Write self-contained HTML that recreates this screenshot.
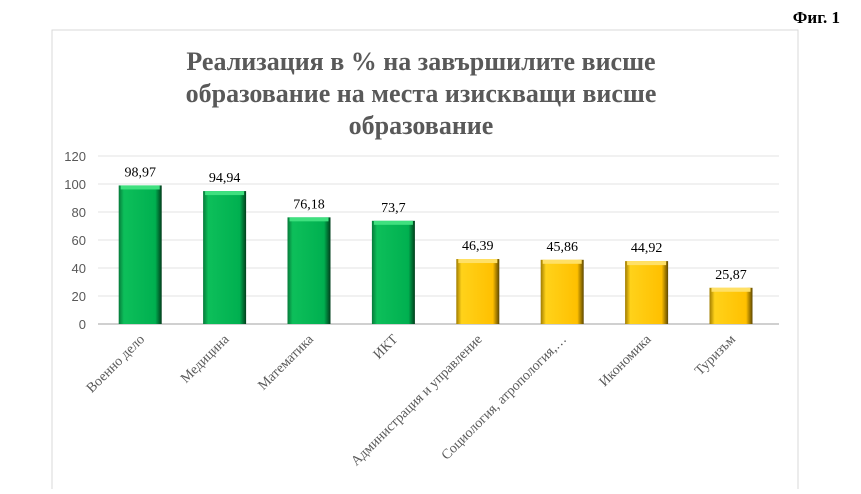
<!DOCTYPE html>
<html><head><meta charset="utf-8"><style>
body{margin:0;background:#fff;width:861px;height:489px;overflow:hidden;font-family:"Liberation Serif",serif}
</style></head><body>
<svg width="861" height="489">
<defs>
<linearGradient id="gG" x1="0" x2="1" y1="0" y2="0">
<stop offset="0" stop-color="#067a3a"/><stop offset="0.12" stop-color="#0dbf5a"/><stop offset="0.85" stop-color="#00b050"/><stop offset="1" stop-color="#013d1b"/></linearGradient>
<linearGradient id="gY" x1="0" x2="1" y1="0" y2="0">
<stop offset="0" stop-color="#a07c00"/><stop offset="0.12" stop-color="#ffd21a"/><stop offset="0.85" stop-color="#ffc000"/><stop offset="1" stop-color="#5e4800"/></linearGradient>
</defs>
<text x="840" y="23" text-anchor="end" font-weight="bold" font-size="17" fill="#000">Фиг. 1</text>
<rect x="52" y="30" width="746" height="470" fill="none" stroke="#d9d9d9"/>
<g font-weight="bold" font-size="26" fill="#595959" text-anchor="middle">
<text x="421" y="70">Реализация в % на завършилите висше</text>
<text x="421" y="102">образование на места изискващи висше</text>
<text x="421" y="134">образование</text>
</g>
<g id="grid"></g><g id="bars"></g>
</svg>
<script>
const categories=["Военно дело","Медицина","Математика","ИКТ","Администрация и управление","Социология, атропология,…","Икономика","Туризъм"];
const values=[98.97,94.94,76.18,73.7,46.39,45.86,44.92,25.87];
const labels=["98,97","94,94","76,18","73,7","46,39","45,86","44,92","25,87"];
const colorGroup=["g","g","g","g","y","y","y","y"];
const ticks=[0,20,40,60,80,100,120];
const NS="http://www.w3.org/2000/svg";
const x0=98,x1=779,band=84.4,y0=324,yMax=120,yTop=156;
function yScale(v){return y0-(v/yMax)*(y0-yTop);}
function xCenter(i){return x0+band*(i+0.5);}
function mk(t,a,p){const e=document.createElementNS(NS,t);for(const k in a)e.setAttribute(k,a[k]);p.appendChild(e);return e;}
const grid=document.getElementById('grid'),bars=document.getElementById('bars');
ticks.forEach(t=>{
 const l=mk('line',{x1:x0,x2:x1,y1:yScale(t),y2:yScale(t),stroke:t===0?'#d0d0d0':'#e3e3e3','stroke-width':t===0?2:1},grid);
 
 
 const tx=mk('text',{x:86,y:yScale(t)+5,'text-anchor':'end','font-size':13,fill:'#595959','font-family':'Liberation Sans, sans-serif'},grid);
 tx.textContent=t;
 
 
});
values.forEach((v,i)=>{
 const cx=xCenter(i),w=43,yt=yScale(v);
 const r=mk('rect',{x:cx-w/2,y:yt,width:w,height:y0-yt,fill:colorGroup[i]==='g'?'url(#gG)':'url(#gY)'},bars);
 
 
 const tp=mk('rect',{x:cx-w/2+2,y:yt,width:w-4,height:4,fill:colorGroup[i]==='g'?'#3fe07f':'#ffe066'},bars);
 
 
 const vl=mk('text',{x:cx,y:yt-9,'text-anchor':'middle','font-size':14,fill:'#000'},bars);
 vl.textContent=labels[i];
 
 
 const cl=mk('text',{x:cx+5,y:y0+16,'text-anchor':'end','font-size':14,fill:'#595959',transform:'rotate(-45 '+(cx+5)+' '+(y0+16)+')'},bars);
 cl.textContent=categories[i];
 
 
});
</script>
</body></html>
